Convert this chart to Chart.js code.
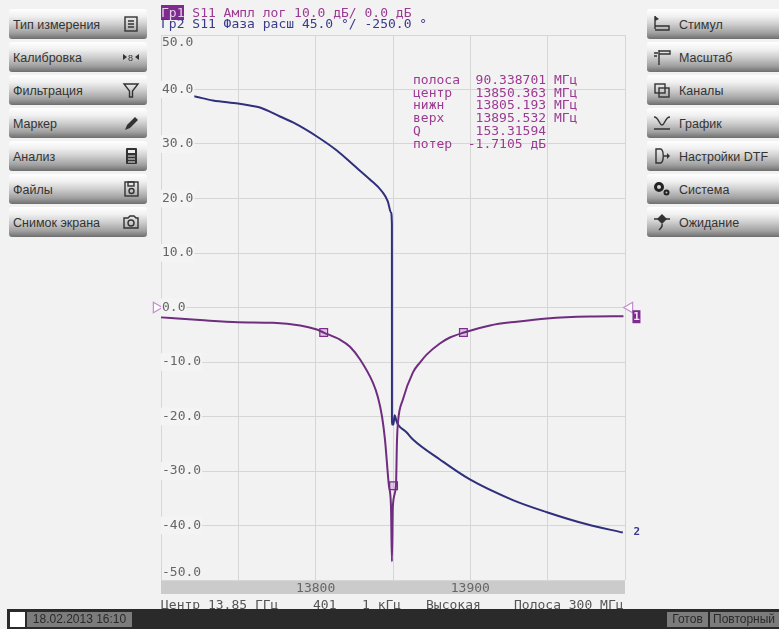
<!DOCTYPE html>
<html>
<head>
<meta charset="utf-8">
<script src="https://cdn.jsdelivr.net/npm/chart.js@4"></script>
<style>
    html, body { margin: 0; padding: 0; background: #f2f2f2; overflow: hidden; }
    #page { position: relative; width: 779px; height: 629px; overflow: hidden; }
    #chart { position: absolute; left: 0; top: 0; }
    .mono { position: absolute; font: 13px/13px "DejaVu Sans Mono", monospace; white-space: pre; }
    .btn {
        position: absolute; height: 30px; box-sizing: border-box; border-radius: 3px;
        background: linear-gradient(#ffffff 0%, #f0f0f0 25%, #cfcfcf 50%, #a0a0a0 80%, #6e6e6e 100%);
        font: 12.5px/32px "Liberation Sans", sans-serif; color: #333; white-space: pre;
    }
    .btn svg { position: absolute; top: 6px; width: 18px; height: 18px; }
    #bar { position: absolute; left: 7px; top: 609px; width: 772px; height: 20px; background: #2a2a2a; }
    .cell { position: absolute; top: 3px; height: 15px; background: #7c7c7c; color: #2a2a2a;
        font: 12px/15px "Liberation Sans", sans-serif; white-space: pre; text-align: center; }
</style>
</head>
<body>
<div id="page">
    <canvas id="chart" width="779" height="629"></canvas>

    <div class="mono" style="left:161px;top:8px;color:#9c3a92;line-height:10.5px"><span style="background:#7d2b8f;color:#e6cfe8">Гр1</span> S11 Ампл лог 10.0 дБ/ 0.0 дБ
<span style="color:#3a3a8a">Гр2 S11 Фаза расш 45.0 °/ -250.0 °</span></div>
    <div id="markerInfo" class="mono" style="left:413px;top:74px;color:#9c3a92;line-height:12.7px"></div>
    <div class="mono" style="left:161px;top:598px;color:#555">Центр 13.85 ГГц</div>
    <div class="mono" style="left:313px;top:598px;color:#555">401</div>
    <div class="mono" style="left:362px;top:598px;color:#555">1 кГц</div>
    <div class="mono" style="left:426px;top:598px;color:#555">Высокая</div>
    <div class="mono" style="left:514px;top:598px;color:#555">Полоса 300 МГц</div>

    <div id="bar">
        <div class="cell" style="left:3px;width:15px;background:#fff"></div>
        <div class="cell" style="left:20px;width:105px">18.02.2013 16:10</div>
        <div class="cell" style="left:660px;width:41px">Готов</div>
        <div class="cell" style="left:703px;width:69px;text-align:left;padding-left:3px">Повторный</div>
    </div>
</div>

<script>
// S11 amplitude, dB
const ampFreq = [13700, 13725.2, 13749.8, 13772.4, 13790, 13800.2, 13805.2, 13815.7, 13822.2, 13828.6, 13837, 13840.3, 13842.9, 13844.8, 13847.4, 13848.7, 13849.3, 13849.9, 13851.9, 13852.6, 13853.2, 13856.4, 13862.9, 13867.4, 13871.9, 13880.3, 13886.8, 13895.9, 13912.7, 13930, 13949.5, 13977, 13999];
const ampDb = [-1.8, -2.3, -2.7, -2.8, -3.3, -4, -4.6, -5.9, -7.2, -9.5, -13.8, -16.5, -20, -24.2, -32.8, -36.5, -46.6, -36.5, -32.8, -24.2, -21.1, -16.9, -11.9, -10.1, -8.6, -6.6, -5.5, -4.6, -3.3, -2.6, -2, -1.65, -1.6];

// S11 unwrapped phase, degrees
const phaseFreq = [13700, 13718.7, 13733.6, 13749.8, 13757.5, 13764, 13776.9, 13786.6, 13800.8, 13813.7, 13824.1, 13835.1, 13842.9, 13846.7, 13848.7, 13849.3, 13849.32, 13849.34, 13850.3, 13851, 13852.3, 13853.2, 13858.7, 13862.9, 13880.3, 13899.7, 13927.5, 13949.5, 13975.4, 13998.6];
const phaseDeg = [-73, -75, -79, -81.6, -83.2, -84.9, -92.3, -98, -108.8, -120.4, -132, -144.3, -154.2, -162.5, -171.6, -181.5, -342.5, -346.6, -346.6, -339, -344, -346.6, -353, -359, -375.5, -392, -409, -419, -429, -435.8];

// bandwidth search markers
const markerFreq = [13805.193, 13850.363, 13895.532];
const markerDb = [-4.6, -32.7, -4.6];

// reference level triangles sit just outside the grid
const refFreq = [13697, 14003];
const refDb = [0, 0];

const xTickLabels = [13800, 13900];
const infoNames = ['полоса', 'центр', 'нижн', 'верх', 'Q', 'потер'];
const infoValues = [' 90.338701 МГц', ' 13850.363 МГц', ' 13805.193 МГц', ' 13895.532 МГц', ' 153.31594', '-1.7105 дБ'];

const leftButtons = ['Тип измерения', 'Калибровка', 'Фильтрация', 'Маркер', 'Анализ', 'Файлы', 'Снимок экрана'];
const rightButtons = ['Стимул', 'Масштаб', 'Каналы', 'График', 'Настройки DTF', 'Система', 'Ожидание'];

const ic = 'fill="none" stroke="#333" stroke-width="1.4"';
const leftIcons = [
    `<rect x="3" y="2" width="12" height="14" ${ic}/><path d="M6 6h6M6 9h6M6 12h6" ${ic}/>`,
    `<path d="M1 6l4 3-4 3zM17 6l-4 3 4 3z" fill="#333"/><text x="6" y="13" font-size="9" font-family="Liberation Sans" fill="#333">8</text>`,
    `<path d="M2 3h14l-5.5 7v6h-3v-6z" ${ic}/>`,
    `<path d="M3 16l2-5 8-8 3 3-8 8z" fill="#333"/>`,
    `<rect x="4" y="1" width="11" height="16" rx="1" fill="#333"/><rect x="6" y="3" width="7" height="3" fill="#eee"/><path d="M6 9h7M6 12h7M6 15h7" stroke="#eee"/>`,
    `<rect x="3" y="2" width="13" height="14" ${ic}/><rect x="6" y="2" width="6" height="4" ${ic}/><circle cx="9.500" cy="11" r="2.500" ${ic}/>`,
    `<path d="M2 5h4l2-2h4l2 2h2v10H2z" ${ic}/><circle cx="9" cy="10" r="3" ${ic}/>`
];
const rightIcons = [
    `<path d="M2 1v13M2 11h14v4H2" ${ic}/><path d="M2 1l4 3-4 2z" fill="#333"/>`,
    `<path d="M6 2v15M1 5h4M1 8h3M6 3h11v3H6" ${ic}/>`,
    `<rect x="2" y="3" width="10" height="9" ${ic}/><rect x="6" y="7" width="10" height="9" ${ic}/>`,
    `<path d="M1 3c5 0 5 8 8 8s3-8 8-8M1 15h16" ${ic}/>`,
    `<path d="M3 2h5c3 2 3 12 0 14H3zM11 9h3" ${ic}/><path d="M14 6l3 3-3 3z" fill="#333"/>`,
    `<circle cx="6" cy="7" r="3.500" fill="none" stroke="#222" stroke-width="3"/><circle cx="13.500" cy="12.500" r="2" fill="none" stroke="#222" stroke-width="2"/>`,
    `<path d="M9 1l5 5-5 5-5-5z" fill="#333"/><path d="M1 6h16M9 11c1 3-1 4-3 6" ${ic}/>`
];

function addButtons(labels, icons, left, width, textLeft, iconLeft) {
    labels.forEach((label, i) => {
        const b = document.createElement('div');
        b.className = 'btn';
        b.style.left = left + 'px';
        b.style.top = (9 + i * 33) + 'px';
        b.style.width = width + 'px';
        b.style.paddingLeft = textLeft + 'px';
        b.innerHTML = label + `<svg viewBox="0 0 18 18" style="left:${iconLeft}px">${icons[i]}</svg>`;
        document.getElementById('page').appendChild(b);
    });
}
addButtons(leftButtons, leftIcons, 9, 138, 4, 113);
addButtons(rightButtons, rightIcons, 647, 140, 32, 6);

document.getElementById('markerInfo').textContent = infoNames
    .map((name, i) => name.padEnd(7, ' ') + infoValues[i]).join('\n');

const toPoints = (xs, ys) => xs.map((x, i) => ({ x: x, y: ys[i] }));

// the "1" and "2" tags at the right end of each trace
const traceTags = {
    id: 'traceTags',
    afterDatasetsDraw(chart) {
        const ctx = chart.ctx;
        ctx.save();
        ctx.font = 'bold 11px "DejaVu Sans Mono", monospace';
        ctx.textAlign = 'center';
        ctx.textBaseline = 'middle';
        const p1 = chart.getDatasetMeta(0).data[ampFreq.length - 1];
        ctx.fillStyle = '#7d2b8f';
        ctx.fillRect(p1.x + 9, p1.y - 6, 8, 13);
        ctx.fillStyle = '#f2e6f4';
        ctx.fillText('1', p1.x + 13, p1.y + 1);
        const p2 = chart.getDatasetMeta(1).data[phaseFreq.length - 1];
        ctx.fillStyle = '#3a3a8a';
        ctx.fillText('2', p2.x + 14, p2.y);
        ctx.restore();
    }
};

new Chart(document.getElementById('chart'), {
    type: 'line',
    plugins: [traceTags],
    data: {
        datasets: [
            {
                data: toPoints(ampFreq, ampDb),
                borderColor: '#6f2d80',
                borderWidth: 2,
                pointRadius: 0,
                cubicInterpolationMode: 'monotone',
                yAxisID: 'y'
            },
            {
                data: toPoints(phaseFreq, phaseDeg),
                borderColor: '#2f2f7c',
                borderWidth: 2,
                pointRadius: 0,
                cubicInterpolationMode: 'monotone',
                yAxisID: 'yPhase'
            },
            {
                data: toPoints(markerFreq, markerDb),
                showLine: false,
                pointStyle: 'rect',
                pointRadius: 5.5,
                pointBackgroundColor: 'rgba(190,120,200,0.35)',
                pointBorderColor: '#7d2b8f',
                pointBorderWidth: 1.2,
                yAxisID: 'y'
            },
            {
                data: toPoints(refFreq, refDb),
                showLine: false,
                clip: false,
                pointStyle: 'triangle',
                pointRotation: [90, -90],
                pointRadius: 6,
                pointBackgroundColor: 'rgba(255,255,255,0.8)',
                pointBorderColor: '#c48ccf',
                pointBorderWidth: 1.2,
                yAxisID: 'y'
            }
        ]
    },
    options: {
        responsive: false,
        animation: false,
        layout: { padding: { left: 161, top: 35, right: 154, bottom: 35 } },
        plugins: { legend: { display: false }, tooltip: { enabled: false } },
        scales: {
            x: {
                type: 'linear',
                min: 13700,
                max: 14000,
                backgroundColor: '#cbcbcb',
                afterFit: (scale) => { scale.height = 14; },
                grid: { color: '#d6d6d6', drawTicks: false },
                border: { display: false },
                ticks: {
                    stepSize: 50,
                    padding: 1,
                    maxRotation: 0,
                    autoSkip: false,
                    color: '#666',
                    font: { family: '"DejaVu Sans Mono", monospace', size: 13 },
                    callback: (value) => xTickLabels.includes(value) ? String(value) : ''
                }
            },
            y: {
                min: -50,
                max: 50,
                afterFit: (scale) => { scale.width = 0; },
                grid: { color: '#d6d6d6', drawTicks: false },
                border: { color: '#d6d6d6' },
                ticks: {
                    stepSize: 10,
                    mirror: true,
                    padding: 1,
                    z: 1,
                    color: '#666',
                    showLabelBackdrop: true,
                    // the backdrop is per line, it would hide the two-line end labels
                    backdropColor: (ctx) => Math.abs(ctx.tick.value) === 50 ? 'rgba(0,0,0,0)' : '#f4f4f4',
                    backdropPadding: 1,
                    font: { family: '"DejaVu Sans Mono", monospace', size: 13 },
                    // top and bottom labels sit inside the grid
                    callback: (value) => {
                        if (value === 50) return ['', '50.0'];
                        if (value === -50) return ['-50.0', ''];
                        return value.toFixed(1);
                    }
                }
            },
            // 45 deg/div around -250 deg, same divisions as the dB axis
            yPhase: { display: false, min: -475, max: -25 }
        }
    }
});
</script>
</body>
</html>
